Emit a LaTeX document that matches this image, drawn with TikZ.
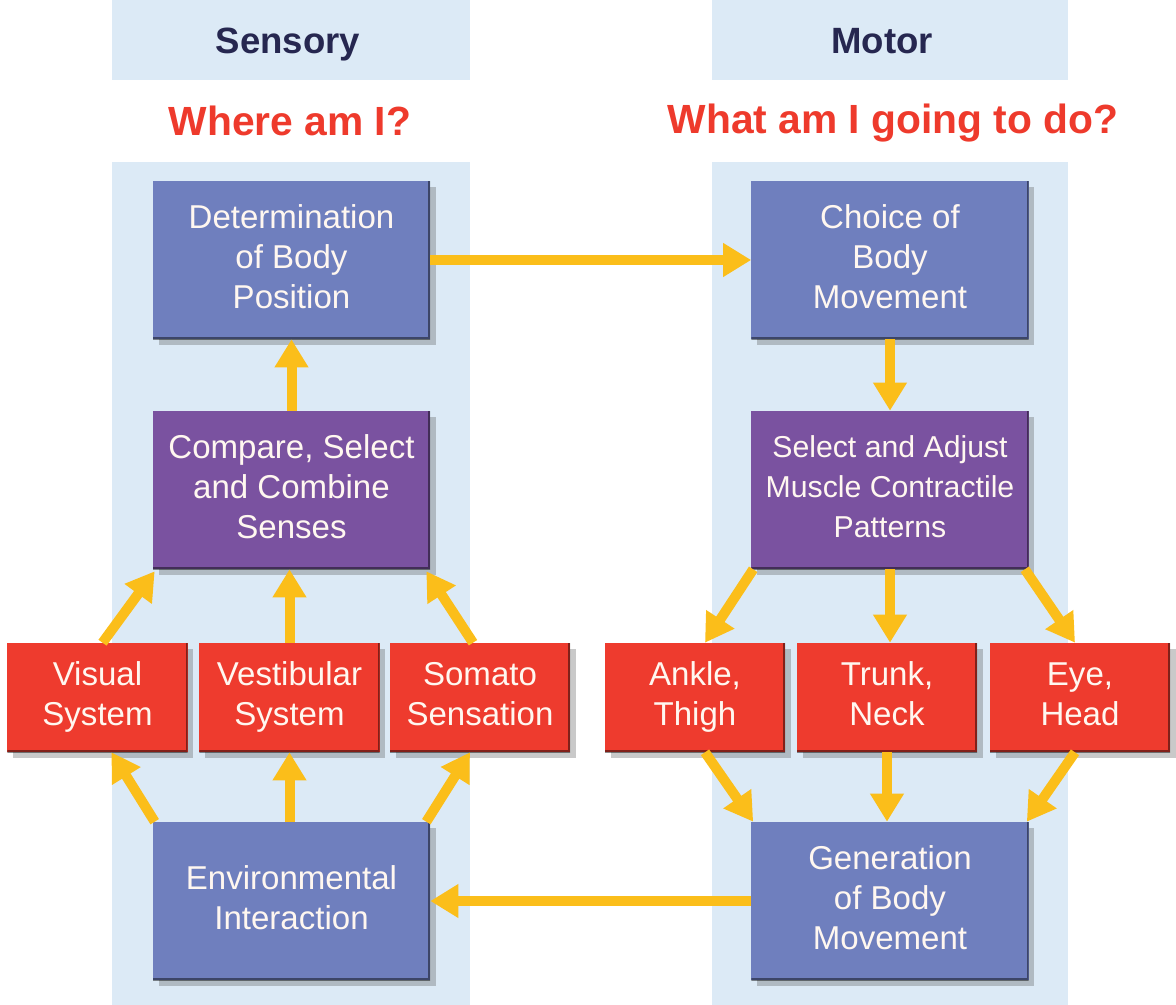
\documentclass[tikz,border=0pt]{standalone}
\usepackage{fontspec}
\setmainfont{Liberation Sans}
\usepackage{tikz}
\usetikzlibrary{arrows.meta, shadows, calc}
\definecolor{panelblue}{HTML}{DCEAF6}
\definecolor{boxblue}{HTML}{6F7FBE}
\definecolor{boxpurple}{HTML}{7A52A0}
\definecolor{boxred}{HTML}{EE3B2E}
\definecolor{flowyellow}{HTML}{FBBE1A}
\definecolor{headnavy}{HTML}{262750}
\definecolor{asktitle}{HTML}{EE3A2C}

\begin{document}
\begin{tikzpicture}[x=0.025cm, y=-0.025cm,
		box/.style={text=white!94!orange, align=center, inner sep=0pt,
			drop shadow={shadow xshift=4pt, shadow yshift=-4pt, opacity=.3, fill=black!70},
			path picture={\draw[black, opacity=.45, line width=.1cm]
				(path picture bounding box.north east) -- (path picture bounding box.south east)
				-- (path picture bounding box.south west);},
			execute at begin node=\rule{0pt}{28pt}, execute at end node=\rule[-5pt]{0pt}{5pt},
			font=\fontsize{23.5}{28.45}\selectfont},
		bigbox/.style={box, minimum width=6.925cm, minimum height=3.95cm},
		smallbox/.style={box, fill=boxred, minimum width=4.5cm, minimum height=2.725cm},
		flow/.style={line width=.25cm, flowyellow, arrows={-Triangle[length=.7cm, width=.8cm]}},
		header/.style={text=headnavy, anchor=base, font=\fontsize{26}{30}\selectfont\bfseries},
		ask/.style={text=asktitle, anchor=base, font=\fontsize{29}{34}\selectfont\bfseries}]
		\useasboundingbox (0, 0) rectangle (1176, 1005);

		% panels
		\fill[panelblue] (112, 0) rectangle (470, 80);
		\fill[panelblue] (712, 0) rectangle (1068, 80);
		\fill[panelblue] (112, 162) rectangle (470, 1005);
		\fill[panelblue] (712, 162) rectangle (1068, 1005);
		\node[header] (sens) at (288, 54) {Sensory};
		\node[header] (mot) at (882, 54) {Motor};
		\node[ask] (where) at (290, 135) {Where am I?};
		\node[ask] (what) at (893, 133) {What am I going to do?};

		% sensory side
		\node[bigbox, fill=boxblue] (det) at (291.5, 260) {Determination\\of Body\\Position};
		\node[bigbox, fill=boxpurple] (cmp) at (291.5, 490) {Compare, Select\\and Combine\\Senses};
		\node[smallbox] (vis) at (97.5, 697.5) {Visual\\System};
		\node[smallbox] (ves) at (289.5, 697.5) {Vestibular\\System};
		\node[smallbox] (som) at (480, 697.5) {Somato\\Sensation};
		\node[bigbox, fill=boxblue] (env) at (291.5, 901) {Environmental\\Interaction};

		% motor side
		\node[bigbox, fill=boxblue] (cho) at (890, 260) {Choice of\\Body\\Movement};
		\node[bigbox, fill=boxpurple, font=\fontsize{21.5}{28.45}\selectfont] (sel) at (890, 490) {Select and Adjust\\Muscle Contractile\\Patterns};
		\node[smallbox] (ank) at (695, 697.5) {Ankle,\\Thigh};
		\node[smallbox] (tru) at (887, 697.5) {Trunk,\\Neck};
		\node[smallbox] (eye) at (1080, 697.5) {Eye,\\Head};
		\node[bigbox, fill=boxblue] (gen) at (890, 901) {Generation\\of Body\\Movement};

		% flows
		\draw[flow] (det.east) -- (cho.west);
		\draw[flow] (gen.west) -- (env.east);
		\draw[flow] (cmp.north) -- (det.south);
		\draw[flow] (cho.south) -- (sel.north);
		\draw[flow] ($(vis.north)+(5, 0)$) -- ($(cmp.south west)+(2, 2)$);
		\draw[flow] (ves.north) -- (ves.north |- cmp.south);
		\draw[flow] ($(som.north)+(-7, 0)$) -- ($(cmp.south east)+(-4, 2)$);
		\draw[flow] ($(env.north west)+(2, 0)$) -- ($(vis.south)+(14, 0)$);
		\draw[flow] (ves.north |- env.north) -- (ves.south);
		\draw[flow] ($(env.north east)+(-4, 0)$) -- ($(som.south)+(-10, 0)$);
		\draw[flow] ($(sel.south west)+(2, 0)$) -- ($(ank.north)+(10, 0)$);
		\draw[flow] (sel.south) -- (sel.south |- tru.north);
		\draw[flow] ($(sel.south east)+(-4, 0)$) -- ($(eye.north)+(-5, 0)$);
		\draw[flow] ($(ank.south)+(10, 0)$) -- ($(gen.north west)+(2, 0)$);
		\draw[flow] (tru.south) -- (tru.south |- gen.north);
		\draw[flow] ($(eye.south)+(-5, 0)$) -- ($(gen.north east)+(-2, 0)$);
	\end{tikzpicture}
\end{document}
